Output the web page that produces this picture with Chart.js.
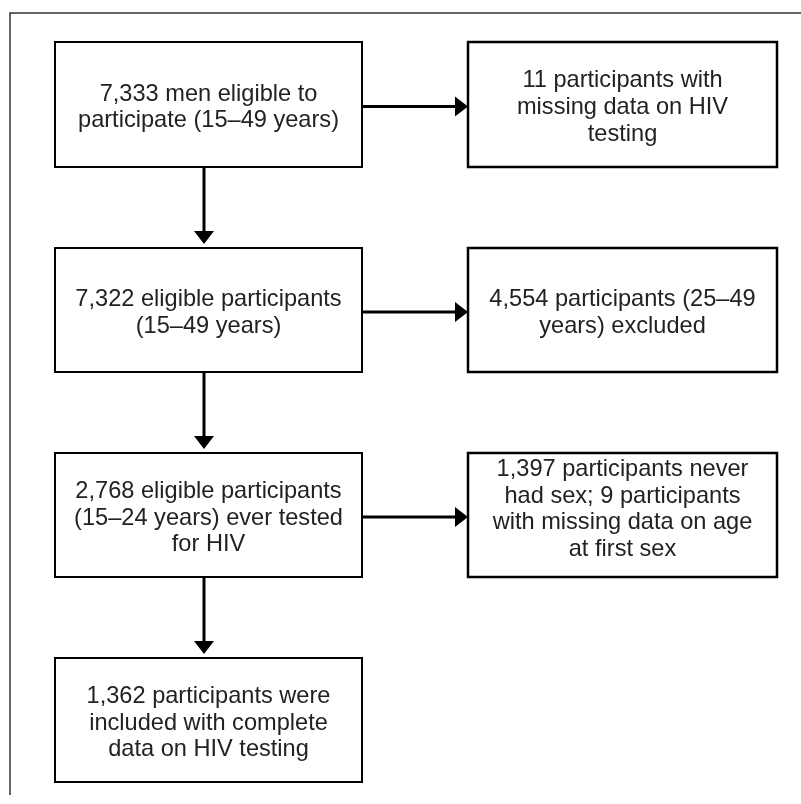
<!DOCTYPE html>
<html lang="en">
<head>
    <meta charset="UTF-8">
    <title>Study flow</title>
    <script src="https://cdn.jsdelivr.net/npm/chart.js"></script>
    <style>
        body {
            margin: 0;
            background: #ffffff;
        }
        #wrap {
            width: 801px;
            height: 804px;
        }
    </style>
</head>
<body>
    <div id="wrap"><canvas id="flow" width="801" height="804"></canvas></div>

    <script>
        // Box texts (one entry per line, as in the original figure)
        const mainSteps = [
            ['7,333 men eligible to', 'participate (15–49 years)'],
            ['7,322 eligible participants', '(15–49 years)'],
            ['2,768 eligible participants', '(15–24 years) ever tested', 'for HIV'],
            ['1,362 participants were', 'included with complete', 'data on HIV testing']
        ];
        const excludedSteps = [
            ['11 participants with', 'missing data on HIV', 'testing'],
            ['4,554 participants (25–49', 'years) excluded'],
            ['1,397 participants never', 'had sex; 9 participants', 'with missing data on age', 'at first sex']
        ];

        // Layout in scale units (x 0..801, y 0..804 top-down)
        const colMain = [55, 362];
        const colSide = [468, 777];
        const rows = [[42, 167], [248, 372], [453, 577], [658, 782]];
        const downArrowX = 204;
        const sideTextShift = [0, 0, -8.5];

        const FONT = '23.6px "Liberation Sans", Arial, sans-serif';
        const LINE_H = 26.7;

        function drawBox(ctx, sx, sy, x0, x1, y0, y1, lines, shift, lw) {
            const px0 = sx.getPixelForValue(x0), px1 = sx.getPixelForValue(x1);
            const py0 = sy.getPixelForValue(y0), py1 = sy.getPixelForValue(y1);
            ctx.lineWidth = lw;
            ctx.strokeStyle = '#000';
            ctx.strokeRect(px0, py0, px1 - px0, py1 - py0);
            ctx.fillStyle = '#222';
            ctx.font = FONT;
            ctx.textAlign = 'center';
            ctx.textBaseline = 'alphabetic';
            const cx = (px0 + px1) / 2;
            const cy = (py0 + py1) / 2 + 9.6 + shift;
            lines.forEach((t, i) => {
                ctx.fillText(t, cx, cy + (i - (lines.length - 1) / 2) * LINE_H);
            });
        }

        function arrow(ctx, x0, y0, x1, y1) {
            const ang = Math.atan2(y1 - y0, x1 - x0);
            const len = 13, half = 10;
            const bx = x1 - len * Math.cos(ang), by = y1 - len * Math.sin(ang);
            ctx.strokeStyle = '#000';
            ctx.lineWidth = 3;
            ctx.beginPath();
            ctx.moveTo(x0, y0);
            ctx.lineTo(bx, by);
            ctx.stroke();
            ctx.fillStyle = '#000';
            ctx.beginPath();
            ctx.moveTo(x1, y1);
            ctx.lineTo(bx + half * Math.sin(ang), by - half * Math.cos(ang));
            ctx.lineTo(bx - half * Math.sin(ang), by + half * Math.cos(ang));
            ctx.closePath();
            ctx.fill();
        }

        const flowPlugin = {
            id: 'flow',
            afterDatasetsDraw(chart) {
                const ctx = chart.ctx;
                const sx = chart.scales.x, sy = chart.scales.y;
                const X = v => sx.getPixelForValue(v);
                const Y = v => sy.getPixelForValue(v);
                ctx.save();

                // outer frame (top and left edges only)
                ctx.strokeStyle = '#333';
                ctx.lineWidth = 1.5;
                ctx.beginPath();
                ctx.moveTo(X(10), Y(795));
                ctx.lineTo(X(10), Y(13));
                ctx.lineTo(X(801), Y(13));
                ctx.stroke();

                mainSteps.forEach((lines, i) => {
                    drawBox(ctx, sx, sy, colMain[0], colMain[1], rows[i][0], rows[i][1], lines, 0, 2);
                    if (i < mainSteps.length - 1) {
                        arrow(ctx, X(downArrowX), Y(rows[i][1]), X(downArrowX), Y(rows[i + 1][0] - 4));
                    }
                });
                excludedSteps.forEach((lines, i) => {
                    drawBox(ctx, sx, sy, colSide[0], colSide[1], rows[i][0], rows[i][1], lines, sideTextShift[i], 2.5);
                    const yMid = (rows[i][0] + rows[i][1]) / 2 + 2;
                    arrow(ctx, X(colMain[1]), Y(yMid), X(colSide[0]), Y(yMid));
                });
                ctx.restore();
            }
        };

        new Chart(document.getElementById('flow'), {
            type: 'scatter',
            data: {
                datasets: [{
                    data: mainSteps.map((_, i) => ({ x: (colMain[0] + colMain[1]) / 2, y: (rows[i][0] + rows[i][1]) / 2 }))
                        .concat(excludedSteps.map((_, i) => ({ x: (colSide[0] + colSide[1]) / 2, y: (rows[i][0] + rows[i][1]) / 2 }))),
                    pointRadius: 0
                }]
            },
            options: {
                responsive: false,
                animation: false,
                layout: { padding: 0 },
                plugins: {
                    legend: { display: false },
                    tooltip: { enabled: false }
                },
                scales: {
                    x: { type: 'linear', min: 0, max: 801, display: false },
                    y: { type: 'linear', min: 0, max: 804, reverse: true, display: false }
                }
            },
            plugins: [flowPlugin]
        });
    </script>
</body>
</html>
